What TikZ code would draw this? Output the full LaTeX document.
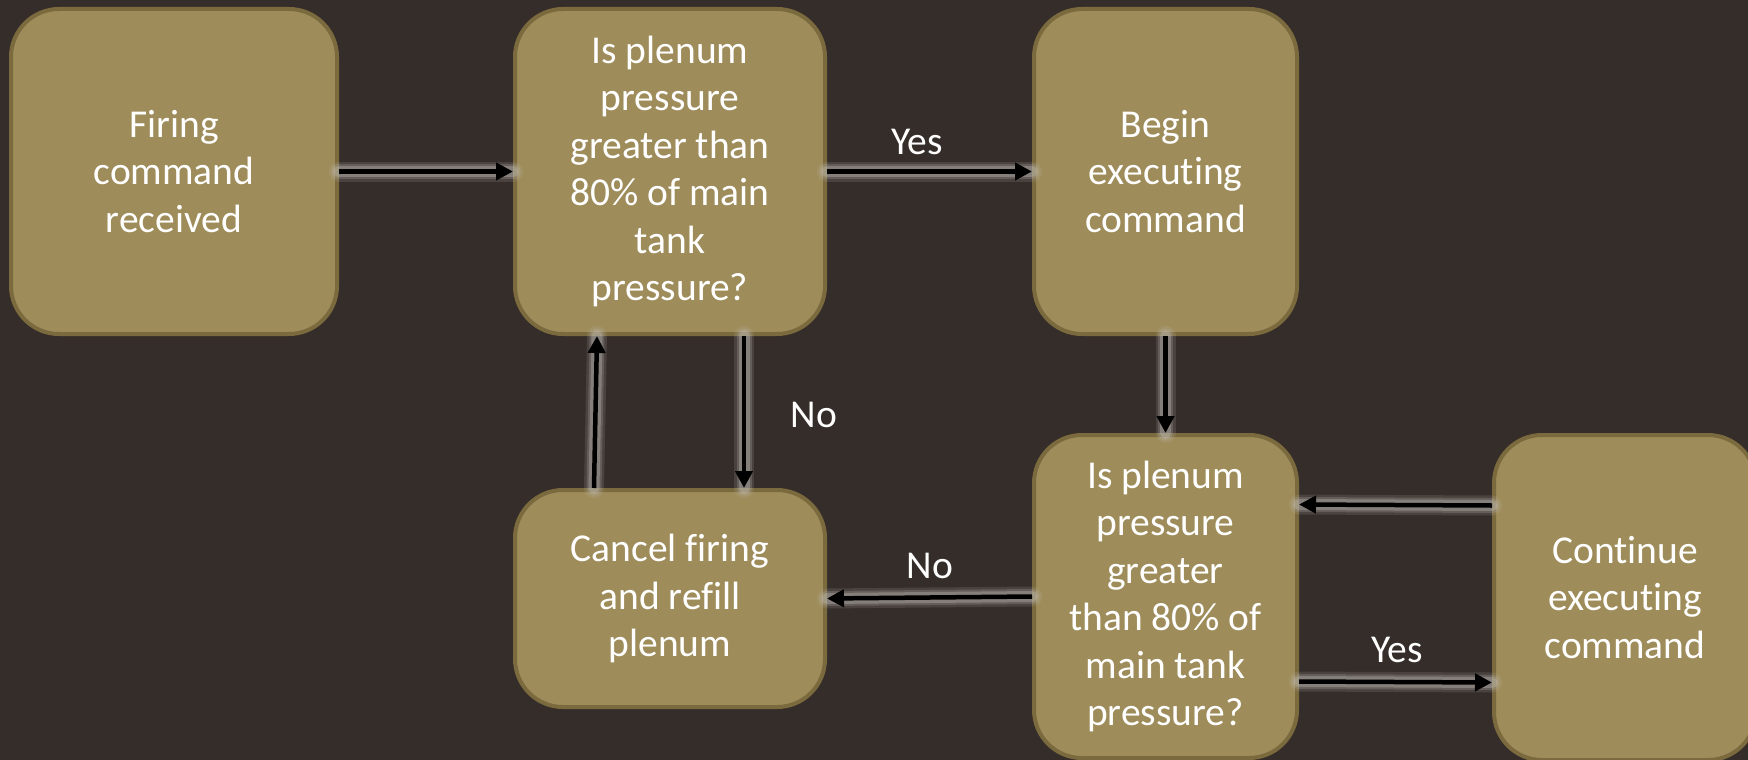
\documentclass[tikz,border=0pt]{standalone}
\usepackage{fontspec}
\setmainfont[Ligatures={NoCommon}]{Carlito}
\usetikzlibrary{arrows.meta}
\definecolor{bgc}{HTML}{352D29}
\definecolor{boxc}{HTML}{9E8C5A}
\definecolor{edgec}{HTML}{7A6A3E}
\definecolor{glowc}{HTML}{C4C0BC}
\tikzset{
  fbox/.style={draw=edgec, line width=4pt, fill=boxc, rounded corners=48pt,
    inner sep=0pt, text=white, align=center,
    font=\fontsize{39.5}{47.5}\selectfont},
  arr/.style={line width=4.5pt, draw=black,
    -{Triangle[length=17pt,width=17pt]},
    preaction={draw=glowc, line width=20pt, opacity=0.15, -, line cap=round},
    preaction={draw=glowc, line width=15pt, opacity=0.22, -, line cap=round},
    preaction={draw=glowc, line width=11pt, opacity=0.35, -, line cap=round}},
  lbl/.style={text=white, font=\fontsize{39.5}{47.5}\selectfont, inner sep=0pt}
}
\begin{document}
\begin{tikzpicture}[x=1pt,y=-1pt]
\fill[bgc] (0,0) rectangle (1748,760);
\useasboundingbox (0,0) rectangle (1748,760);
\clip (0,0) rectangle (1748,760);
\node[fbox, minimum width=326pt, minimum height=325pt] (b1) at (174,171.5) {Firing\\command\\received};
\node[fbox, minimum width=310pt, minimum height=325pt] (b2) at (670,171.5) {Is plenum\\pressure\\greater than\\80\% of main\\tank\\pressure?};
\node[fbox, minimum width=263pt, minimum height=325pt] (b3) at (1165.5,171.5) {Begin\\executing\\command};
\node[fbox, minimum width=310pt, minimum height=217pt] (b4) at (670,598.5) {Cancel firing\\and refill\\plenum};
\node[fbox, minimum width=263pt, minimum height=323pt] (b5) at (1165.5,596.5) {Is plenum\\pressure\\greater\\than 80\% of\\main tank\\pressure?};
\node[fbox, minimum width=262pt, minimum height=325pt] (b6) at (1625,597.5) {Continue\\executing\\command};
\draw[arr] (b1.east) -- (b2.west);
\draw[arr] (b2.east) -- (b3.west);
\draw[arr] (b3.south) -- (b5.north);
\draw[arr] ([xshift=74pt]b2.south) -- ([xshift=74pt]b4.north);
\draw[arr] ([xshift=-76pt]b4.north) -- ([xshift=-73pt]b2.south);
\draw[arr] (b5.west) -- (b4.east);
\draw[arr] ([yshift=92pt]b6.west) -- ([yshift=92pt]b5.east);
\draw[arr] ([yshift=-85pt]b5.east) -- ([yshift=-85pt]b6.west);
\node[lbl] (l1) at (917,142) {Yes};
\node[lbl] (l2) at (814,415) {No};
\node[lbl] (l3) at (930,566) {No};
\node[lbl] (l4) at (1397,650) {Yes};
\end{tikzpicture}
\end{document}
